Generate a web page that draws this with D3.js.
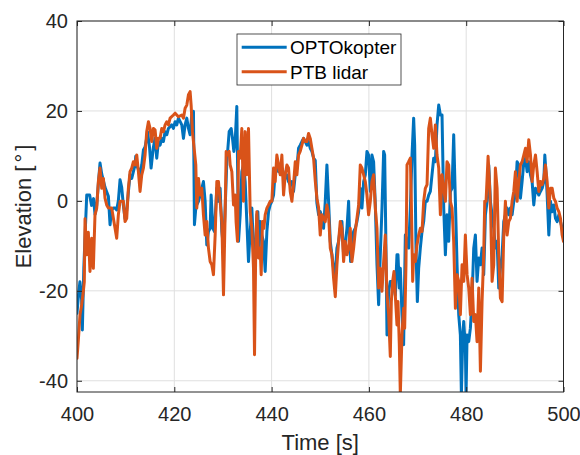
<!DOCTYPE html>
<html>
<head>
<meta charset="utf-8">
<script src="https://cdn.jsdelivr.net/npm/d3@7"></script>
<style>
  html, body { margin: 0; padding: 0; background: #fff; }
  svg { display: block; font-family: "Liberation Sans", Arial, Helvetica, sans-serif; }
</style>
</head>
<body>
<svg id="chart" width="580" height="455"></svg>
<script>
// Elevation angle vs. time, OPTOkopter compared with PTB lidar
const xTicks = [400, 420, 440, 460, 480, 500];
const yTicks = [-40, -20, 0, 20, 40];
const xLimits = [400, 500];
const yLimits = [-42.5, 40];
const seriesNames = ["OPTOkopter", "PTB lidar"];
const seriesColors = ["#0072BD", "#D95319"];

const optoTime = [
  400.0, 400.3, 400.6, 400.95, 401.1, 401.4, 401.65, 402.0, 402.6, 403.0, 403.4, 403.7, 404.05, 404.4, 404.73,
  405.08, 405.42, 405.76, 406.1, 406.45, 406.79, 407.13, 407.48, 407.82, 408.16, 408.5, 408.85, 409.19, 409.53, 409.88,
  410.22, 410.56, 410.9, 411.25, 411.59, 411.93, 412.07, 412.28, 412.62, 412.96, 413.31, 413.65, 413.99, 414.33, 414.5,
  414.9, 415.23, 415.5, 415.71, 416.05, 416.39, 416.74, 417.08, 417.42, 417.76, 418.11, 418.45, 418.79, 419.48, 419.82,
  420.17, 420.51, 420.85, 421.54, 421.88, 422.22, 422.57, 422.91, 423.25, 423.59, 423.94, 424.14, 424.42, 424.62, 424.97,
  425.31, 425.65, 425.99, 426.34, 426.68, 427.02, 427.37, 427.57, 427.92, 428.26, 428.74, 429.08, 429.42, 429.77, 430.11,
  430.45, 430.8, 431.28, 431.69, 431.96, 432.24, 432.51, 432.85, 433.2, 433.54, 433.88, 434.22, 434.57, 434.91, 435.25,
  435.6, 435.94, 436.28, 436.62, 436.97, 437.17, 437.45, 437.65, 437.98, 438.34, 438.68, 439.03, 439.37, 439.71, 440.05,
  440.4, 440.74, 441.08, 441.43, 442.11, 442.8, 443.14, 443.48, 443.83, 444.17, 444.51, 444.86, 445.2, 445.54, 445.88,
  446.23, 446.57, 446.91, 447.26, 447.6, 447.94, 448.28, 448.63, 448.97, 449.31, 449.66, 450.0, 450.34, 450.68, 451.03,
  451.37, 451.71, 452.06, 452.4, 452.74, 453.09, 453.43, 453.77, 454.11, 454.46, 454.8, 455.14, 455.49, 455.83, 456.03,
  456.24, 456.51, 456.86, 457.2, 457.54, 457.89, 458.23, 458.57, 458.92, 459.26, 459.6, 459.94, 460.29, 460.63, 460.97,
  461.32, 461.66, 462.0, 462.34, 462.69, 463.03, 463.24, 463.51, 463.72, 464.06, 464.4, 464.75, 465.09, 465.43, 465.77,
  465.98, 466.25, 466.46, 466.8, 467.14, 467.49, 467.83, 468.17, 468.52, 468.86, 469.2, 469.41, 469.68, 469.96, 470.23,
  470.57, 470.92, 471.26, 471.6, 471.95, 472.29, 472.63, 472.97, 473.32, 473.66, 474.0, 474.35, 474.69, 475.03, 475.38,
  475.72, 476.06, 476.4, 476.75, 477.09, 477.43, 477.78, 478.12, 478.46, 478.8, 479.01, 479.29, 479.49, 479.83, 479.97,
  480.18, 480.52, 480.86, 481.2, 481.55, 481.89, 482.23, 482.58, 482.92, 483.26, 483.6, 483.95, 484.29, 484.63, 484.98,
  485.32, 485.66, 486.0, 486.35, 486.69, 487.03, 487.38, 487.72, 488.06, 488.41, 488.75, 489.09, 489.43, 489.78, 490.12,
  490.46, 490.81, 491.15, 491.49, 491.84, 492.18, 492.52, 492.86, 493.21, 493.55, 493.89, 494.24, 494.58, 494.92, 495.26,
  495.61, 495.95, 496.16, 496.43, 496.64, 496.98, 497.32, 497.67, 498.01, 498.35, 498.69, 499.04, 499.38, 499.72, 500.0
];
const optoElev = [
  -25, -21, -18, -22, -28.7, -15, -8, 1.3, 1.3, -1, 0.5, -3, -1, 4, 8.4,
  6, 4.5, 3, 2, 1, -5.3, -2, -1.6, -1.6, -2, 0, 4.7, 3, -1, -4,
  -2, 2, 5.8, 5, 6.5, 8, 9.9, 8, 7, 6, 8, 11.3, 12, 14, 15.4,
  12, 7.3, 10, 12, 14, 9.5, 13.2, 12.4, 13.9, 13.2, 15.4, 14.7, 16.1, 16.9, 16.1,
  17.6, 16.9, 18.4, 16.9, 13.9, 16.9, 18.4, 16.1, 14.7, 19.1, 19.9, -5.3, -1.6, -0.9, -0.1,
  1.3, 2.8, 4.3, -0.1, -9.8, -6.8, -6.1, 1.3, -6.1, -6.8, 2.8, -0.1, 2.8, -6.8, -10.5,
  -1.6, 8.7, 15.4, 16.1, 13.9, 11.0, 13.2, 21.0, -9.0, -3.1, 6.5, 8.0, 4.3, -4.6, -13.5,
  -6.8, -1.6, -10.5, -15.0, -3.1, -2.4, -10.5, -4.6, -7.6, -9.0, -15.7, -6.8, -2.4, -0.9, -0.1,
  1.3, 6.5, 7.3, 6.5, 7.3, 5.0, 5.8, 4.3, 3.6, 4.3, 2.1, 5.8, 7.3, 11.7, 12.4,
  13.2, 13.9, 13.2, 12.4, 13.2, 11.7, 11.0, 9.5, 9.0, -0.5, -3.1, -2.4, -3.9, -6.1, -0.1,
  8.0, -0.1, -9.0, -12.0, -15.0, -16.4, -10.5, -9.0, -6.1, -4.6, -12.0, -9.8, -6.1, -0.1, -7.6,
  -13.5, -9.8, -6.8, -6.1, -4.6, -2.4, 2.8, -1.6, 4.3, 5.8, 11.0, 10.2, 2.1, 10.2, 8.7,
  -0.9, -14.2, -23.1, -12.0, -1.6, 11.0, 10.2, -10.5, -29.8, -20.1, -17.9, -17.9, -18.6, -21.0, -12.0,
  -12.0, -19.4, -15.0, -25.3, -32.0, -7.6, -9.0, -10.5, -1.6, 10.2, 18.4, 12.4, -10.5, -22.4, -15.0,
  -10.5, -6.8, -4.6, -0.1, -0.1, 1.3, 2.1, 5.8, 9.5, 8.7, 16.9, 21.3, 19.1, 19.1, -1.6,
  -12.0, -3.1, -9.0, 2.1, 2.8, 14.7, -0.1, -14.2, -25.3, -29.8, -43.0, -30.5, -26.8, -32.7, -43.0,
  -29.8, -31.3, -28.3, -21.6, -10.5, -7.6, -17.9, -12.7, -14.2, -10.5, -16.4, -3.1, -0.1, 8.0, -0.1,
  -3.1, -6.1, -10.5, -9.0, -19.4, -15.0, -12.0, -4.6, -3.1, -1.6, -3.1, -1.6, -3.1, -0.1, 1.3,
  8.7, 8.0, 0.6, 4.3, 8.7, 9.5, 6.5, 8.7, 5.8, 4.3, -0.9, 2.8, 2.1, 1.3, 2.1,
  2.8, 4.3, 10.2, 5.8, 1.3, -7.6, -0.1, -2.4, -0.9, -3.9, -4.6, -3.1, -4.6, -6.1, -7.0
];

const lidarTime = [
  400.0, 400.27, 400.62, 400.96, 401.3, 401.5, 401.65, 401.99, 402.33, 402.67, 403.02, 403.36, 403.7, 404.05, 404.39,
  404.73, 405.08, 405.42, 405.76, 406.1, 406.45, 407.13, 407.82, 408.16, 408.5, 408.85, 409.19, 409.53, 409.88, 410.22,
  410.56, 410.9, 411.25, 411.59, 411.93, 412.28, 412.62, 412.96, 413.31, 413.65, 413.99, 414.33, 414.68, 415.02, 415.36,
  415.71, 416.05, 416.39, 416.74, 417.08, 417.42, 417.76, 418.11, 418.45, 418.79, 419.14, 419.82, 420.17, 420.51, 420.85,
  421.54, 421.88, 422.22, 422.57, 422.91, 423.25, 423.46, 423.73, 424.14, 424.42, 424.62, 424.97, 425.31, 425.65, 425.99,
  426.34, 426.68, 427.02, 427.37, 427.71, 428.05, 428.4, 428.74, 429.08, 429.42, 429.77, 430.11, 430.45, 430.66, 431.0,
  431.28, 431.48, 431.83, 432.17, 432.51, 432.7, 432.99, 433.2, 433.54, 433.88, 434.22, 434.57, 434.91, 435.25, 435.6,
  435.94, 436.28, 436.49, 436.76, 436.97, 437.31, 437.65, 437.86, 438.13, 438.41, 438.68, 439.03, 439.37, 439.71, 440.05,
  440.4, 440.74, 441.08, 441.43, 441.77, 442.11, 442.46, 442.8, 443.14, 443.48, 443.83, 444.17, 444.51, 444.86, 445.2,
  445.54, 445.88, 446.23, 446.57, 446.91, 447.26, 447.6, 447.94, 448.28, 448.63, 448.97, 449.31, 449.66, 450.0, 450.34,
  450.68, 451.03, 451.37, 451.71, 452.06, 452.4, 452.74, 453.09, 453.43, 453.77, 454.11, 454.46, 454.8, 455.14, 455.49,
  455.83, 456.17, 456.51, 456.86, 457.2, 457.54, 457.89, 458.23, 458.57, 458.92, 459.26, 459.6, 459.94, 460.29, 460.63,
  460.97, 461.32, 461.66, 462.0, 462.34, 462.69, 463.03, 463.37, 463.72, 464.06, 464.4, 464.61, 464.88, 465.16, 465.43,
  465.77, 465.98, 466.25, 466.46, 466.8, 467.14, 467.35, 467.62, 467.83, 468.17, 468.52, 468.72, 469.0, 469.2, 469.55,
  469.89, 470.23, 470.57, 470.92, 471.26, 471.6, 471.95, 472.29, 472.63, 472.97, 473.32, 473.66, 474.0, 474.35, 474.69,
  475.03, 475.38, 475.72, 476.06, 476.4, 476.75, 477.09, 477.43, 477.78, 478.12, 478.46, 478.8, 479.15, 479.49, 479.83,
  480.18, 480.52, 480.86, 481.2, 481.55, 481.89, 482.23, 482.58, 482.92, 483.26, 483.6, 483.81, 484.08, 484.5, 484.77,
  485.04, 485.32, 485.66, 486.0, 486.35, 486.69, 487.03, 487.38, 487.72, 488.06, 488.41, 488.75, 489.09, 489.43, 489.78,
  490.12, 490.46, 490.81, 491.15, 491.49, 491.84, 492.18, 492.52, 492.86, 493.21, 493.55, 493.89, 494.24, 494.58, 494.92,
  495.26, 495.61, 495.95, 496.29, 496.64, 496.98, 497.32, 497.67, 498.01, 498.35, 498.69, 499.04, 499.38, 499.72, 500.0
];
const lidarElev = [
  -35, -31, -25.3, -23.1, -20.1, -18, -4.0, -12.0, -7, -15.7, -8.3, -15.0, -3.1, -1.6, 4.3,
  7.3, 2.8, 5.0, 0.6, -0.9, -1.6, -1.6, -6.1, -8.3, -3.1, -0.1, -0.1, -0.1, -4.6, -3.9,
  2.8, 6.5, 7.3, 8.7, 8.0, 10.2, 6.5, 2.1, 5.8, 7.3, 10.2, 15.4, 17.6, 16.1, 13.2,
  16.1, 15.8, 11.7, 13.9, 13.9, 16.1, 15.4, 16.9, 17.6, 16.9, 18.4, 19.1, 19.5, 19.1, 18.7,
  19.1, 18.4, 20.6, 21.3, 23.6, 24.3, 21.3, 15.4, 11.0, 8.0, -1.6, 5.0, 1.3, 2.8, -3.1,
  -7.6, -4.6, -10.5, -13.5, -14.2, -16.4, -7.6, 4.3, 4.3, -0.1, -4.6, -20.9, -3.1, 11.0, 10.2,
  11.0, 8.0, 6.5, -0.9, 1.3, -4.6, -9.0, 11.0, 9.5, 16.1, -0.1, 15.4, 5.8, 16.1, -2.4,
  -6.1, -15.0, -34.2, -9.0, -2.4, -12.7, -10.5, -16.4, -4.6, -6.1, -3.1, -1.6, -0.9, -0.1, -0.1,
  7.3, 4.3, 10.2, 8.0, 5.8, 10.2, 1.3, 5.8, 8.0, 7.3, 2.1, -0.1, 3.6, 8.7, 5.8,
  10.2, 11.0, 12.4, 13.9, 13.2, 13.2, 15.0, 13.9, 11.7, 9.5, 4.5, 0.6, -1.5, -7.6, -3.1,
  -3.9, -4.6, -0.9, -3.1, -10.5, -12.0, -17.2, -21.3, -14.2, -9.0, -4.6, -6.1, -13.5, -9.0, -12.0,
  -10.5, -6.1, -13.5, -10.5, -6.8, -3.9, -0.9, 8.0, 7.3, 5.8, 4.3, 1.3, -3.1, -0.1, 4.3,
  5.8, -1.6, -6.1, -19.4, -15.0, -20.1, -13.5, -7.6, -20.9, -25.3, -34.6, -22.4, -17.9, -15.7, -21.0,
  -27.6, -22.4, -32.0, -43.0, -29.8, -23.9, -28.3, -14.2, 8.0, 8.7, 9.5, -0.1, -17.9, -12.0, -13.5,
  -9.8, -7.6, -6.1, -6.8, -0.1, 2.8, 3.6, 16.1, 18.4, 14.7, 11.7, 16.9, 10.2, 7.3, -3.1,
  5.8, 2.8, -0.1, 8.7, 8.0, -0.1, -1.6, -9.0, -23.9, -16.4, -17.9, -25.3, -14.2, -17.9, -7.6,
  -16.4, -19.4, -25.3, -17.2, -26.8, -25.3, -31.3, -19.4, -37.9, -22.4, -12.0, -0.1, -0.1, 9.9, 4.3,
  -3.1, -17.9, -14.2, 7.3, 2.8, -12.0, -21.6, -22.4, -7.6, -0.1, -7.6, -4.6, -3.9, -0.1, 2.1,
  6.5, -0.1, 4.3, 8.0, 8.7, 10.2, 11.7, 8.7, 13.6, 10.2, 4.3, 8.0, 10.2, 6.5, 2.1,
  4.3, 3.6, 5.0, 8.0, 4.3, -1.6, 2.8, 2.8, 0.6, -0.1, -1.6, -2.4, -3.9, -7.6, -9.0
];

const series = [
  { name: seriesNames[0], color: seriesColors[0], points: d3.zip(optoTime, optoElev) },
  { name: seriesNames[1], color: seriesColors[1], points: d3.zip(lidarTime, lidarElev) }
];

const svg = d3.select("#chart");
const margin = { left: 77, right: 16.5, top: 21, bottom: 63 };
const W = 580, H = 455;
const plotW = W - margin.left - margin.right;
const plotH = H - margin.top - margin.bottom;
const axisColor = "#262626";
const gridColor = "#dfdfdf";

const x = d3.scaleLinear().domain(xLimits).range([0, plotW]);
const y = d3.scaleLinear().domain(yLimits).range([plotH, 0]);

const g = svg.append("g").attr("transform", `translate(${margin.left},${margin.top})`);

// grid
g.append("g").attr("class", "grid")
  .selectAll("line.gx").data(xTicks).join("line")
  .attr("x1", d => x(d)).attr("x2", d => x(d))
  .attr("y1", 0).attr("y2", plotH)
  .attr("stroke", gridColor).attr("stroke-width", 1);
g.append("g").attr("class", "grid")
  .selectAll("line.gy").data(yTicks).join("line")
  .attr("x1", 0).attr("x2", plotW)
  .attr("y1", d => y(d)).attr("y2", d => y(d))
  .attr("stroke", gridColor).attr("stroke-width", 1);

// data lines, clipped to the axes box
svg.append("defs").append("clipPath").attr("id", "plotClip")
  .append("rect").attr("x", 0).attr("y", 0).attr("width", plotW).attr("height", plotH);

const line = d3.line().x(d => x(d[0])).y(d => y(d[1]));
g.append("g").attr("clip-path", "url(#plotClip)")
  .selectAll("path").data(series).join("path")
  .attr("d", d => line(d.points))
  .attr("fill", "none")
  .attr("stroke", d => d.color)
  .attr("stroke-width", 3)
  .attr("stroke-linejoin", "round")
  .attr("stroke-linecap", "round");

// axes with inward ticks; plain hyphen for negative labels
const tickLen = 5;
const fontTick = 20;
const plainFormat = d => String(d);
function styleAxis(sel, showText) {
  sel.select(".domain").remove();
  sel.selectAll(".tick line").attr("stroke", axisColor).attr("stroke-width", 1);
  sel.selectAll(".tick text")
    .attr("fill", axisColor)
    .style("font-size", fontTick + "px")
    .style("display", showText ? null : "none");
}
g.append("g").attr("transform", `translate(0,${plotH})`)
  .call(d3.axisBottom(x).tickValues(xTicks).tickFormat(plainFormat)
    .tickSizeInner(-tickLen).tickSizeOuter(0).tickPadding(15))
  .call(s => styleAxis(s, true));
g.append("g")
  .call(d3.axisTop(x).tickValues(xTicks).tickSizeInner(-tickLen).tickSizeOuter(0))
  .call(s => styleAxis(s, false));
g.append("g")
  .call(d3.axisLeft(y).tickValues(yTicks).tickFormat(plainFormat)
    .tickSizeInner(-tickLen).tickSizeOuter(0).tickPadding(9))
  .call(s => styleAxis(s, true));
g.append("g").attr("transform", `translate(${plotW},0)`)
  .call(d3.axisRight(y).tickValues(yTicks).tickSizeInner(-tickLen).tickSizeOuter(0))
  .call(s => styleAxis(s, false));

// box
g.append("rect").attr("x", 0).attr("y", 0).attr("width", plotW).attr("height", plotH)
  .attr("fill", "none").attr("stroke", axisColor).attr("stroke-width", 1);

// axis labels
g.append("text")
  .attr("x", plotW / 2).attr("y", 450 - margin.top)
  .attr("text-anchor", "middle")
  .attr("fill", axisColor)
  .style("font-size", "22px")
  .text("Time [s]");

const yl = g.append("text")
  .attr("transform", `translate(${31 - margin.left},${plotH / 2}) rotate(-90)`)
  .attr("text-anchor", "middle")
  .attr("fill", axisColor)
  .style("font-size", "22px");
yl.append("tspan").text("Elevation [");
yl.append("tspan").attr("dx", 3).text("°");
yl.append("tspan").attr("dx", 3).text("]");

// legend
const lg = svg.append("g").attr("transform", "translate(237,34)");
lg.append("rect").attr("x", 0).attr("y", 0).attr("width", 164).attr("height", 51)
  .attr("fill", "#fff").attr("stroke", axisColor).attr("stroke-width", 0.8);
const rows = lg.selectAll("g.row").data(series).join("g")
  .attr("transform", (d, i) => `translate(0,${13.3 + i * 24.4})`);
rows.append("line").attr("x1", 4.7).attr("x2", 49.7).attr("y1", 0).attr("y2", 0)
  .attr("stroke", d => d.color).attr("stroke-width", 3);
rows.append("text").attr("x", 53).attr("y", 0).attr("dy", "0.36em")
  .attr("fill", "#000")
  .style("font-size", "19px")
  .text(d => d.name);
</script>
</body>
</html>
